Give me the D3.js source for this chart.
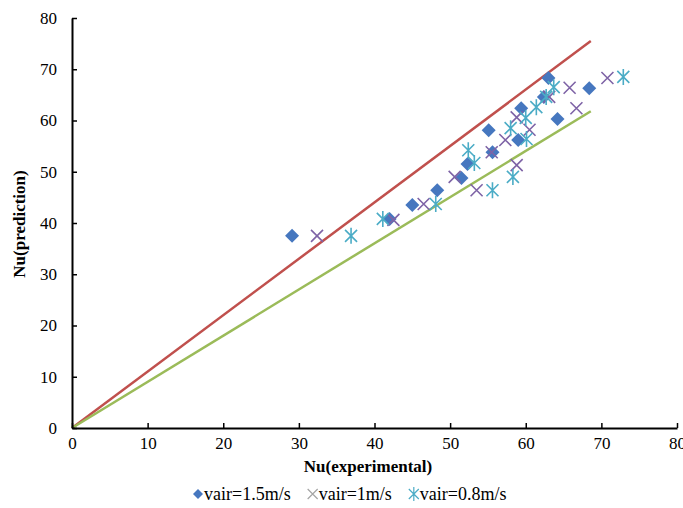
<!DOCTYPE html>
<html>
<head>
<meta charset="utf-8">
<script src="https://cdn.jsdelivr.net/npm/d3@7"></script>
<style>
  body { margin: 0; background: #fff; }
  text { font-family: "Liberation Serif", "Times New Roman", serif; }
</style>
</head>
<body>
<div id="chart"></div>
<script>
// Nu prediction vs experiment, three air velocities

const width = 683;
const height = 508;

const xTicks = [0, 10, 20, 30, 40, 50, 60, 70, 80];
const yTicks = [0, 10, 20, 30, 40, 50, 60, 70, 80];

// vair = 1.5 m/s  [experimental, prediction]
const air15 = [
  [29.1, 37.5], [42.0, 40.8], [45.0, 43.5], [48.3, 46.4], [51.5, 48.8],
  [52.3, 51.5], [55.6, 53.8], [55.1, 58.1], [59.0, 56.2], [59.4, 62.4],
  [62.4, 64.6], [63.0, 68.3], [64.2, 60.3], [68.4, 66.3]
];
// vair = 1 m/s
const air10 = [
  [32.4, 37.5], [42.5, 40.6], [46.5, 43.7], [50.6, 49.0], [53.5, 46.4],
  [55.5, 53.8], [57.3, 56.2], [58.8, 51.3], [58.8, 60.6], [60.5, 58.2],
  [63.1, 64.6], [65.8, 66.4], [66.7, 62.4], [70.8, 68.3]
];
// vair = 0.8 m/s
const air08 = [
  [36.9, 37.5], [41.1, 40.8], [48.1, 43.7], [52.4, 54.2], [53.2, 51.7],
  [55.6, 46.4], [58.3, 49.0], [58.0, 58.5], [60.0, 60.5], [60.1, 56.4],
  [61.4, 62.6], [62.7, 64.6], [63.7, 66.5], [72.9, 68.5]
];

// +10% and -10% lines
const upperLine = [[0, 0], [68.6, 75.5]];
const lowerLine = [[0, 0], [68.6, 61.8]];

const legendNames = ["vair=1.5m/s", "vair=1m/s", "vair=0.8m/s"];

const plotLeft = 72, plotRight = 677, plotTop = 18, plotBottom = 428;

let xScale = d3.scaleLinear().domain([0, 80]).range([plotLeft, plotRight]);
let yScale = d3.scaleLinear().domain([0, 80]).range([plotBottom, plotTop]);

const svg = d3.select("#chart").append("svg")
  .attr("width", width)
  .attr("height", height);

// lines
let line = d3.line().x(d => xScale(d[0])).y(d => yScale(d[1]));

svg.append("path")
  .datum(upperLine)
  .attr("d", line)
  .attr("fill", "none")
  .attr("stroke", "#C0504D")
  .attr("stroke-width", 2.5);

svg.append("path")
  .datum(lowerLine)
  .attr("d", line)
  .attr("fill", "none")
  .attr("stroke", "#9BBB59")
  .attr("stroke-width", 2.5);

// marker shapes (square diamond, x, six-arm star)
const diamond = "M0,-7L7,0L0,7L-7,0Z";
const cross = "M-6,-6L6,6M-6,6L6,-6";
const star = "M-6,-6L6,6M-6,6L6,-6M0,-8L0,8";

function drawMarkers(g, data, kind) {
  const sel = g.selectAll("path").data(data).enter().append("path")
    .attr("transform", d => `translate(${xScale(d[0])},${yScale(d[1])})`);
  if (kind === 0) {
    sel.attr("d", diamond).attr("fill", "#4677BF");
  } else if (kind === 1) {
    sel.attr("d", cross).attr("fill", "none")
      .attr("stroke", "#7E63A6").attr("stroke-width", 1.6);
  } else {
    sel.attr("d", star).attr("fill", "none")
      .attr("stroke", "#4BACC6").attr("stroke-width", 1.6);
  }
}

drawMarkers(svg.append("g"), air15, 0);
drawMarkers(svg.append("g"), air10, 1);
drawMarkers(svg.append("g"), air08, 2);

// axes
let xAxis = svg.append("g")
  .attr("transform", `translate(0,${plotBottom})`)
  .call(d3.axisBottom(xScale).tickValues(xTicks).tickSizeInner(-5).tickSizeOuter(0).tickPadding(9));

let yAxis = svg.append("g")
  .attr("transform", `translate(${plotLeft},0)`)
  .call(d3.axisLeft(yScale).tickValues(yTicks).tickSizeInner(-5).tickSizeOuter(0).tickPadding(15));

[xAxis, yAxis].forEach(a => {
  a.select(".domain").attr("stroke", "#000").attr("stroke-width", 2);
  a.selectAll(".tick line").attr("stroke", "#000").attr("stroke-width", 1.5);
  a.selectAll(".tick text")
    .attr("font-family", "Liberation Serif")
    .attr("font-size", 17)
    .attr("fill", "#000");
});

// axis titles
svg.append("text")
  .attr("x", 368)
  .attr("y", 472)
  .attr("text-anchor", "middle")
  .attr("font-size", 17)
  .attr("font-weight", "bold")
  .text("Nu(experimental)");

svg.append("text")
  .attr("transform", "rotate(-90)")
  .attr("x", -224)
  .attr("y", 25)
  .attr("text-anchor", "middle")
  .attr("font-size", 17)
  .attr("font-weight", "bold")
  .text("Nu(prediction)");

// legend
let lx = 192;
const ly = 494;
legendNames.forEach((name, i) => {
  const g = svg.append("g").attr("transform", `translate(${lx + 6},${ly})`);
  if (i === 0) {
    g.append("path").attr("d", "M0,-5L5,0L0,5L-5,0Z").attr("fill", "#4677BF");
  } else if (i === 1) {
    g.append("path").attr("d", "M-5,-5L5,5M-5,5L5,-5").attr("stroke", "#A5A5A5").attr("stroke-width", 1.2);
  } else {
    g.append("path").attr("d", "M-5,-5L5,5M-5,5L5,-5M0,-7L0,7").attr("stroke", "#4BACC6").attr("stroke-width", 1.2);
  }
  const t = svg.append("text")
    .attr("x", lx + 12)
    .attr("y", ly + 6)
    .attr("font-size", 18)
    .attr("fill", "#000")
    .text(name);
  lx = lx + 12 + t.node().getComputedTextLength() + 16;
});
</script>
</body>
</html>
